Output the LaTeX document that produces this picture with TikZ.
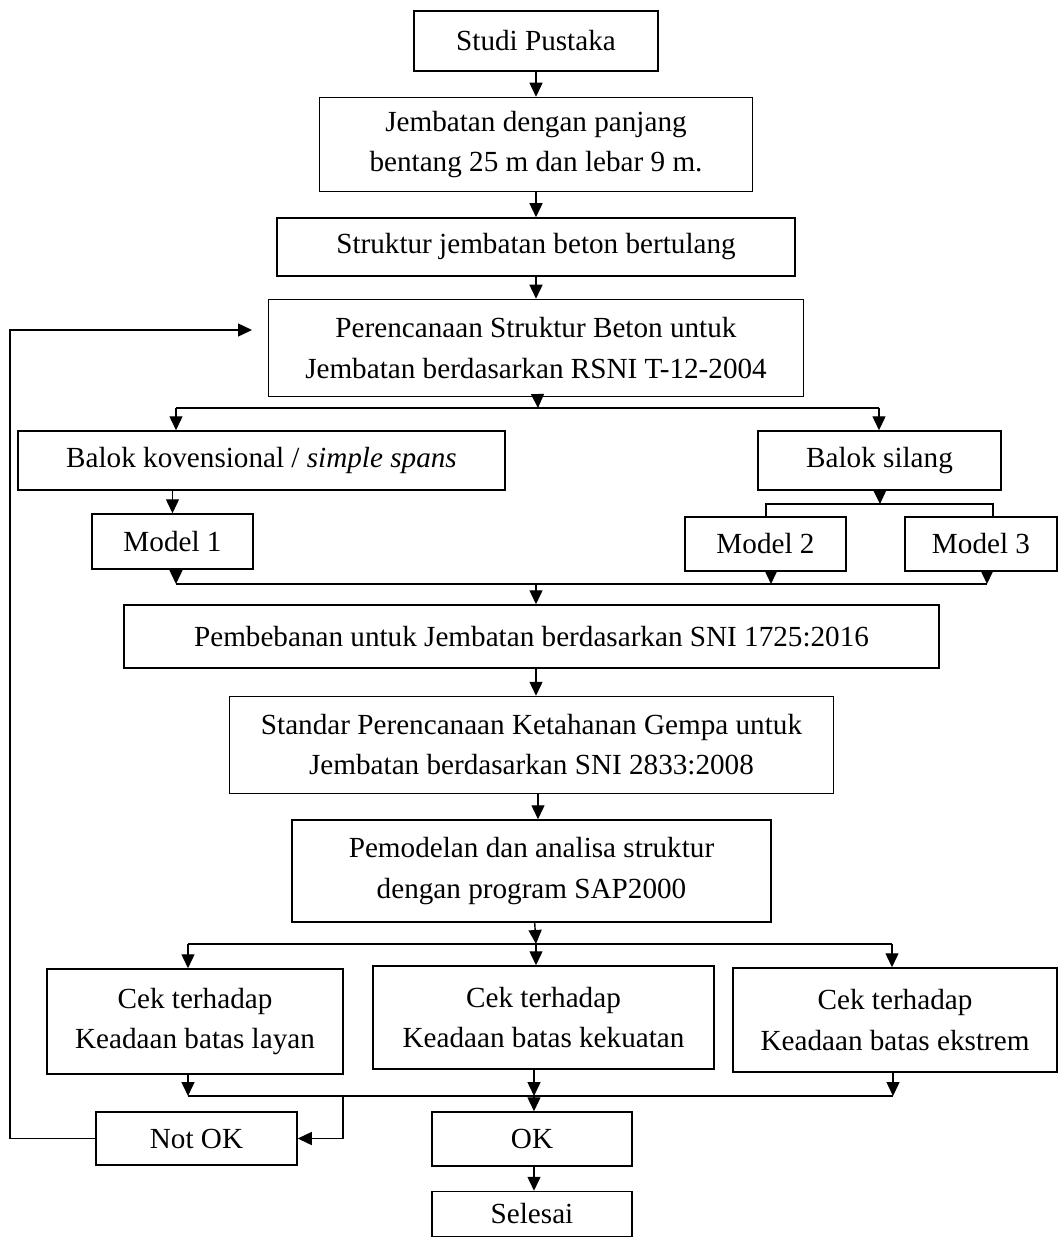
\documentclass[tikz,border=0pt]{standalone}
\usepackage{fontspec}
\setmainfont{Liberation Serif}
\usetikzlibrary{positioning, arrows.meta}

\begin{document}
\begin{tikzpicture}[
                x=0.2mm, y=-0.2mm,
                box/.style={draw, line width=0.85pt, align=center, inner sep=0pt, font=\fontsize{16.6}{22.8}\selectfont},
                arr/.style={-{Triangle[width=2.6mm, length=2.8mm]}, line width=0.8pt},
                wire/.style={line width=0.8pt},
            ]
                \useasboundingbox (0,0) rectangle (1059,1237);

                \node[box, minimum width=48.8mm, minimum height=12mm] (studi) at (536,41) {Studi Pustaka};
                \node[box, minimum width=86.6mm, minimum height=18.8mm, below=5mm of studi] (jemb) {Jembatan dengan panjang\\bentang 25 m dan lebar 9 m.};
                \node[box, minimum width=103.6mm, minimum height=11.6mm, below=5mm of jemb] (struk) {Struktur jembatan beton bertulang};
                \node[box, minimum width=107mm, minimum height=19.4mm, below=4.4mm of struk] (renc) {Perencanaan Struktur Beton untuk\\Jembatan berdasarkan RSNI T-12-2004};

                \node[box, minimum width=97.4mm, minimum height=11.8mm] (konv) at (261.5,460.5) {Balok kovensional / \textit{simple spans}};
                \node[box, minimum width=48.6mm, minimum height=11.8mm] (silang) at (879.5,460.5) {Balok silang};
                \node[box, minimum width=32.2mm, minimum height=11mm] (model1) at (172.5,541.5) {Model 1};
                \node[box, minimum width=32.2mm, minimum height=10.8mm] (model2) at (765.5,544) {Model 2};
                \node[box, minimum width=30.4mm, minimum height=10.8mm] (model3) at (981,544) {Model 3};

                \node[box, minimum width=163mm, minimum height=12.6mm] (beban) at (531.5,636.5) {Pembebanan untuk Jembatan berdasarkan SNI 1725:2016};
                \node[box, minimum width=120.8mm, minimum height=19.4mm, below=5.4mm of beban] (gempa) {Standar Perencanaan Ketahanan Gempa untuk\\Jembatan berdasarkan SNI 2833:2008};
                \node[box, minimum width=95.8mm, minimum height=20.4mm, below=5mm of gempa] (sap) {Pemodelan dan analisa struktur\\dengan program SAP2000};

                \node[box, minimum width=59.2mm, minimum height=21mm] (layan) at (195,1021.5) {Cek terhadap\\Keadaan batas layan};
                \node[box, minimum width=68.2mm, minimum height=20.6mm] (kuat) at (543.5,1017.5) {Cek terhadap\\Keadaan batas kekuatan};
                \node[box, minimum width=64.8mm, minimum height=20.8mm] (ekstrem) at (895,1020) {Cek terhadap\\Keadaan batas ekstrem};

                \node[box, minimum width=40.2mm, minimum height=10.6mm] (notok) at (196.5,1138.5) {Not OK};
                \node[box, minimum width=40mm, minimum height=10.8mm] (ok) at (532,1139) {OK};
                \node[box, minimum width=40mm, minimum height=9mm, below=4.8mm of ok] (selesai) {Selesai};

                % junction points
                \coordinate (b1) at (538,408);
                \coordinate (b1l) at (176,408);
                \coordinate (b1r) at (879,408);
                \coordinate (b2) at (880,504);
                \coordinate (b2l) at (766,504);
                \coordinate (b2r) at (993,504);
                \coordinate (c0) at (536,584);
                \coordinate (c1) at (176,584);
                \coordinate (c2) at (771,584);
                \coordinate (c3) at (987,584);
                \coordinate (d0) at (536,944);
                \coordinate (d1) at (188,944);
                \coordinate (d3) at (892,944);
                \coordinate (e0) at (534,1096);
                \coordinate (e1) at (188,1096);
                \coordinate (e2) at (343,1096);
                \coordinate (e3) at (893,1096);
                \coordinate (fbtop) at (10,330);
                \coordinate (fbend) at (252,330);

                \draw[arr] (studi) -- (studi |- jemb.north);
                \draw[arr] (jemb) -- (jemb |- struk.north);
                \draw[arr] (struk) -- (struk |- renc.north);

                \draw[arr] (renc) -- (b1);
                \draw[wire] (b1l) -- (b1r);
                \draw[arr] (b1l) -- (b1l |- konv.north);
                \draw[arr] (b1r) -- (b1r |- silang.north);

                \draw[arr] (konv.south -| model1) -- (model1);
                \draw[arr] (silang) -- (b2);
                \draw[wire] (b2l |- model2.north) -- (b2l) -- (b2r) -- (b2r |- model3.north);

                \draw[wire] (c1) -- (c3);
                \draw[arr] (c1 |- model1.south) -- (c1);
                \draw[arr] (c2 |- model2.south) -- (c2);
                \draw[arr] (c3 |- model3.south) -- (c3);
                \draw[arr] (c0) -- (c0 |- beban.north);

                \draw[arr] (c0 |- beban.south) -- (c0 |- gempa.north);
                \draw[arr] (b1 |- gempa.south) -- (b1 |- sap.north);

                \draw[arr] (sap) -- (d0);
                \draw[wire] (d1) -- (d3);
                \draw[arr] (d1) -- (d1 |- layan.north);
                \draw[arr] (d0) -- (d0 |- kuat.north);
                \draw[arr] (d3) -- (d3 |- ekstrem.north);

                \draw[wire] (e1) -- (e3);
                \draw[arr] (e1 |- layan.south) -- (e1);
                \draw[arr] (e0 |- kuat.south) -- (e0);
                \draw[arr] (e3 |- ekstrem.south) -- (e3);
                \draw[arr] (e0) -- (e0 |- ok.north);
                \draw[arr] (e0 |- ok.south) -- (e0 |- selesai.north);

                % back to design step
                \draw[arr] (e2) |- (notok);
                \draw[arr] (notok) -| (fbtop) -- (fbend);
            \end{tikzpicture}
\end{document}
